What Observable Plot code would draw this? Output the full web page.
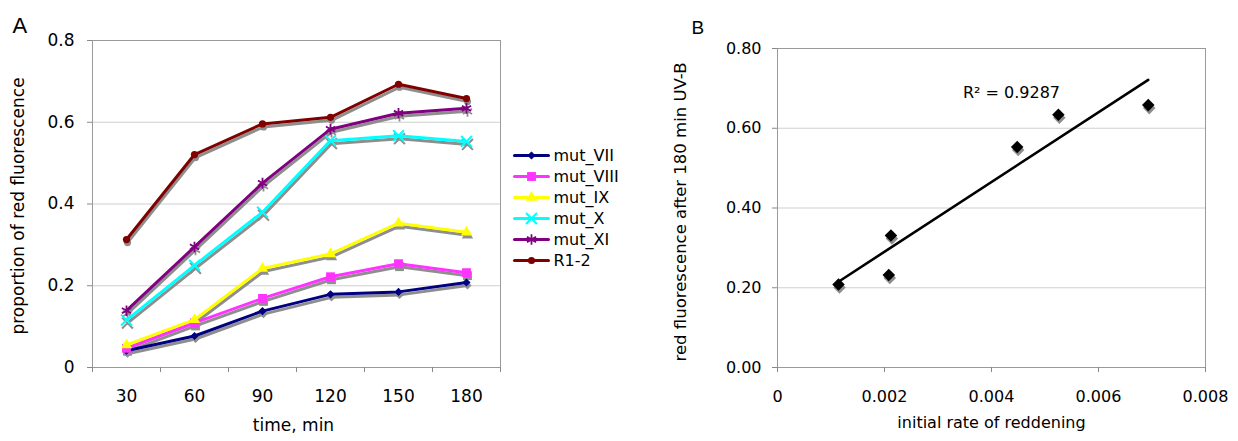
<!DOCTYPE html>
<html>
<head>
<meta charset="utf-8">
<script src="https://cdn.jsdelivr.net/npm/d3@7"></script>
<script src="https://cdn.jsdelivr.net/npm/@observablehq/plot@0.6"></script>
<style>
  html, body { margin: 0; padding: 0; background: #fff; }
  #wrap { position: relative; width: 1238px; height: 441px; overflow: hidden; background: #fff; }
  .panel { position: absolute; top: 0; }
</style>
</head>
<body>
<div id="wrap">
  <div id="panelA" class="panel" style="left:0px"></div>
  <div id="legendA" class="panel" style="left:505px; top:143px"></div>
  <div id="panelB" class="panel" style="left:640px"></div>
</div>
<script>
// ---------- data ----------
const times = [30, 60, 90, 120, 150, 180];
const seriesNames = ["mut_VII", "mut_VIII", "mut_IX", "mut_X", "mut_XI", "R1-2"];
const mut_VII  = [0.041, 0.077, 0.138, 0.179, 0.185, 0.208];
const mut_VIII = [0.047, 0.109, 0.169, 0.222, 0.254, 0.232];
const mut_IX   = [0.055, 0.117, 0.242, 0.278, 0.353, 0.331];
const mut_X    = [0.116, 0.250, 0.380, 0.555, 0.567, 0.553];
const mut_XI   = [0.139, 0.295, 0.451, 0.583, 0.622, 0.634];
const R1_2     = [0.313, 0.521, 0.596, 0.612, 0.693, 0.658];
const yTicksA = [0, 0.2, 0.4, 0.6, 0.8];
const xEdgesA = [15, 45, 75, 105, 135, 165, 195];

const initialRate = [0.00114, 0.00208, 0.00212, 0.00448, 0.00525, 0.00693];
const fluor180    = [0.208, 0.232, 0.331, 0.553, 0.634, 0.658];
const yTicksB = [0, 0.2, 0.4, 0.6, 0.8];
const xTicksB = [0, 0.002, 0.004, 0.006, 0.008];
const r2Text = "R\u00B2 = 0.9287";

// ---------- styles ----------
const valuesBySeries = {"mut_VII": mut_VII, "mut_VIII": mut_VIII, "mut_IX": mut_IX, "mut_X": mut_X, "mut_XI": mut_XI, "R1-2": R1_2};
const seriesStyle = {
  "mut_VII":  {color: "#000080", symbol: "square",   r: 2.7, rotate: 45, sw: 1},
  "mut_VIII": {color: "#ff33ff", symbol: "square",   r: 5.0, rotate: 0,  sw: 0},
  "mut_IX":   {color: "#ffff00", symbol: "triangle", r: 4.2, rotate: 0,  sw: 0},
  "mut_X":    {color: "#00ffff", symbol: "times",    r: 5.0, rotate: 0,  sw: 2},
  "mut_XI":   {color: "#800080", symbol: "asterisk", r: 5.0, rotate: 0,  sw: 1.8},
  "R1-2":     {color: "#800000", symbol: "circle",   r: 3.6, rotate: 0,  sw: 0}
};
const shadow = "#8e8e8e";
const fontMain = "'DejaVu Sans', Verdana, sans-serif";

const rowsFor = s => times.map((t, i) => ({time: t, value: valuesBySeries[s][i], series: s}));

// ---------- Panel A ----------
const marksA = [
  Plot.gridY(yTicksA.filter(d => d > 0 && d < 0.8), {stroke: "#cfcfcf", strokeOpacity: 1}),
  Plot.frame({stroke: "#9a9a9a"}),
  Plot.axisY(yTicksA, {label: null, tickSize: 5, tickPadding: 13, stroke: "#888", fontSize: 17, tickFormat: d => String(d)}),
  Plot.axisX(xEdgesA, {label: null, tickSize: 5, tickFormat: () => "", stroke: "#888"}),
  Plot.axisX(times, {label: null, tickSize: 0, tickPadding: 22, fontSize: 17, tickFormat: d => String(d)})
];
for (const s of seriesNames) {
  const st = seriesStyle[s];
  marksA.push(Plot.line(rowsFor(s), {x: "time", y: "value", stroke: shadow, strokeWidth: 3, dx: 1, dy: 3}));
  marksA.push(Plot.dot(rowsFor(s), {x: "time", y: "value", symbol: st.symbol, r: st.r, rotate: st.rotate,
    fill: shadow, stroke: shadow, strokeWidth: st.sw, dx: 1, dy: 3}));
}
for (const s of seriesNames) {
  const st = seriesStyle[s];
  marksA.push(Plot.line(rowsFor(s), {x: "time", y: "value", stroke: st.color, strokeWidth: 3}));
  marksA.push(Plot.dot(rowsFor(s), {x: "time", y: "value", symbol: st.symbol, r: st.r, rotate: st.rotate,
    fill: st.color, stroke: st.color, strokeWidth: st.sw}));
}
marksA.push(
  Plot.text(["proportion of red fluorescence"], {frameAnchor: "left", textAnchor: "middle", rotate: -90, dx: -74, dy: 2, fontSize: 17, text: d => d}),
  Plot.text(["time, min"], {frameAnchor: "bottom", dy: 63, dx: -3, fontSize: 17, text: d => d}),
  Plot.text(["A"], {frameAnchor: "top-left", dx: -80, dy: -23, textAnchor: "start", fontSize: 22,
    fontFamily: "'Liberation Sans', Arial, sans-serif", text: d => d})
);

const plotA = Plot.plot({
  width: 520, height: 441,
  marginLeft: 92, marginRight: 20, marginTop: 40, marginBottom: 74,
  style: {fontFamily: fontMain, fontSize: "17px", color: "#000", background: "transparent", overflow: "visible"},
  x: {domain: [15, 195], axis: null},
  y: {domain: [0, 0.8], axis: null},
  marks: marksA
});
document.getElementById("panelA").appendChild(plotA);

// ---------- Legend ----------
const marksL = [];
for (const s of seriesNames) {
  const st = seriesStyle[s];
  marksL.push(Plot.line([{t: 0, series: s}, {t: 1, series: s}], {x: "t", y: "series", stroke: st.color, strokeWidth: 3}));
  marksL.push(Plot.dot([{t: 0.5, series: s}], {x: "t", y: "series", symbol: st.symbol, r: st.r, rotate: st.rotate,
    fill: st.color, stroke: st.color, strokeWidth: st.sw}));
  marksL.push(Plot.text([{t: 1, series: s}], {x: "t", y: "series", text: "series", dx: 5, textAnchor: "start", fontSize: 16}));
}
const legend = Plot.plot({
  width: 130, height: 130, margin: 0,
  style: {fontFamily: fontMain, fontSize: "16px", color: "#000", background: "transparent", overflow: "visible"},
  x: {domain: [0, 1], range: [9, 43], axis: null},
  y: {type: "point", domain: seriesNames, range: [11, 118], padding: 0, axis: null},
  marks: marksL
});
document.getElementById("legendA").appendChild(legend);

// ---------- Panel B ----------
const pointsB = initialRate.map((x, i) => ({rate: x, fluor: fluor180[i], series: seriesNames[i]}));
const plotB = Plot.plot({
  width: 598, height: 441,
  marginLeft: 137, marginRight: 33, marginTop: 48, marginBottom: 74,
  style: {fontFamily: fontMain, fontSize: "16px", color: "#000", background: "transparent", overflow: "visible"},
  x: {domain: [0, 0.008], axis: null},
  y: {domain: [0, 0.8], axis: null},
  marks: [
    Plot.gridY(yTicksB.filter(d => d > 0 && d < 0.8), {stroke: "#cfcfcf", strokeOpacity: 1}),
    Plot.frame({stroke: "#9a9a9a"}),
    Plot.axisY(yTicksB, {label: null, tickSize: 5, tickPadding: 11, stroke: "#888", fontSize: 16, tickFormat: d3.format(".2f")}),
    Plot.axisX(xTicksB, {label: null, tickSize: 5, tickPadding: 18, stroke: "#888", fontSize: 16, tickFormat: d => d === 0 ? "0" : d3.format(".3f")(d)}),
    Plot.linearRegressionY(pointsB, {x: "rate", y: "fluor", stroke: "#000", strokeWidth: 2.6, ci: 0}),
    Plot.dot(pointsB, {x: "rate", y: "fluor", symbol: "square", rotate: 45, r: 5, fill: shadow, dx: 1, dy: 3}),
    Plot.dot(pointsB, {x: "rate", y: "fluor", symbol: "square", rotate: 45, r: 5, fill: "#000"}),
    Plot.text([r2Text], {frameAnchor: "top-left", textAnchor: "middle", dx: 234, dy: 38, fontSize: 16, text: d => d}),
    Plot.text(["red fluorescence after 180 min UV-B"], {frameAnchor: "left", textAnchor: "middle", rotate: -90, dx: -97, dy: 4, fontSize: 16.5, text: d => d}),
    Plot.text(["initial rate of reddening"], {frameAnchor: "bottom", dy: 60, fontSize: 16, text: d => d}),
    Plot.text(["B"], {frameAnchor: "top-left", dx: -86, dy: -28, textAnchor: "start", fontSize: 19,
      fontFamily: "'Liberation Sans', Arial, sans-serif", text: d => d})
  ]
});
document.getElementById("panelB").appendChild(plotB);
</script>
</body>
</html>
